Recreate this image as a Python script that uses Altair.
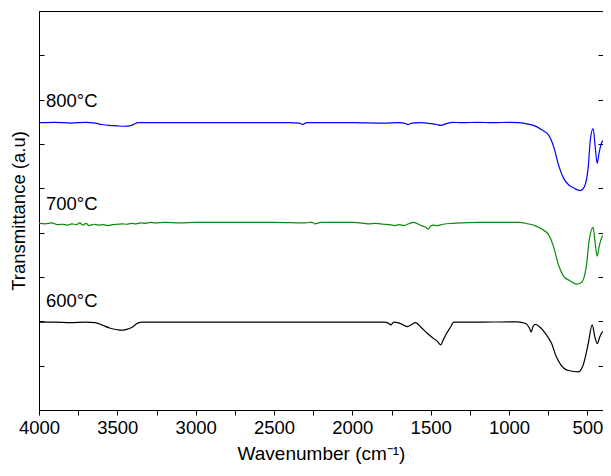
import altair as alt
import pandas as pd

# ---- data ----
wn_800 = [4000, 3900, 3800, 3700, 3640, 3600, 3550, 3500, 3460, 3420, 3390, 3370, 3300, 3000, 2700,
          2400, 2340, 2317, 2290, 2000, 1800, 1700, 1660, 1642, 1620, 1560, 1500, 1460, 1434, 1400,
          1358, 1300, 1200, 1100, 1000, 936, 880, 835, 791, 747, 715, 684, 652, 620, 583, 545, 520,
          494, 481, 463, 450, 437, 425, 406, 400]
t_800 = [64.8, 64.9, 64.7, 64.9, 64.7, 64.4, 64.2, 64.1, 64.0, 64.1, 64.5, 64.8, 64.8, 64.8, 64.8,
         64.8, 64.7, 64.4, 64.8, 64.8, 64.7, 64.8, 64.6, 64.4, 64.7, 64.8, 64.6, 64.4, 64.2, 64.6,
         64.9, 64.8, 64.9, 64.8, 64.9, 64.8, 64.5, 64.1, 63.2, 62.0, 59.4, 55.3, 52.3, 50.8, 50.0,
         49.5, 50.3, 54.9, 60.9, 63.5, 59.4, 55.6, 58.0, 60.5, 60.8]

wn_700 = [4000, 3960, 3920, 3880, 3850, 3820, 3790, 3760, 3740, 3720, 3700, 3680, 3650, 3620, 3590,
          3560, 3530, 3500, 3470, 3440, 3410, 3380, 3350, 3320, 3290, 3260, 3200, 3100, 3000, 2800,
          2500, 2300, 2260, 2240, 2200, 2000, 1950, 1900, 1850, 1800, 1760, 1730, 1700, 1670, 1640,
          1610, 1560, 1530, 1516, 1500, 1484, 1460, 1420, 1358, 1300, 1188, 1000, 936, 880, 835,
          791, 747, 715, 684, 652, 614, 570, 539, 507, 488, 463, 450, 437, 425, 406, 400]
t_700 = [42.1, 42.0, 42.2, 41.8, 41.9, 41.7, 42.0, 41.8, 42.2, 41.7, 42.1, 41.6, 41.9, 41.7, 41.8,
         41.6, 41.8, 41.9, 42.0, 41.9, 42.1, 42.0, 42.2, 42.1, 42.3, 42.2, 42.3, 42.2, 42.3, 42.3,
         42.3, 42.2, 42.4, 42.0, 42.3, 42.3, 42.2, 42.0, 42.1, 41.9, 41.8, 41.6, 41.8, 41.6, 42.0,
         42.3, 41.6, 41.2, 40.8, 41.5, 41.7, 41.6, 41.9, 42.1, 42.2, 42.3, 42.3, 42.3, 42.0, 41.6,
         40.8, 39.5, 36.8, 32.7, 30.2, 29.2, 28.4, 28.7, 32.3, 38.3, 41.2, 37.6, 34.7, 36.8, 39.1, 39.4]

wn_600 = [4000, 3900, 3800, 3700, 3640, 3600, 3550, 3500, 3479, 3440, 3400, 3370, 3340, 3000, 2500,
          2000, 1800, 1770, 1755, 1736, 1700, 1648, 1620, 1598, 1560, 1522, 1484, 1460, 1436, 1420,
          1398, 1375, 1352, 1200, 1000, 948, 893, 870, 858, 845, 831, 800, 768, 728, 698, 669, 620,
          557, 526, 494, 469, 452, 437, 420, 406, 400]
t_600 = [19.8, 19.8, 19.7, 19.8, 19.7, 19.2, 18.5, 18.1, 18.0, 18.2, 18.8, 19.6, 19.8, 19.8, 19.8,
         19.8, 19.8, 19.6, 19.2, 19.8, 19.6, 18.8, 19.3, 19.7, 18.6, 17.3, 16.2, 15.6, 14.7, 15.8,
         17.3, 18.6, 19.8, 19.8, 19.9, 19.9, 19.5, 18.5, 17.6, 19.0, 19.3, 18.6, 17.3, 15.0, 12.0,
         10.2, 8.9, 8.6, 10.2, 15.0, 19.2, 16.5, 15.0, 16.5, 17.5, 17.7]

series_names = ["800°C", "700°C", "600°C"]
series_colors = ["#0000ff", "#0a8a0a", "#000000"]
label_wn = [3956, 3956, 3956]
label_t = [68.3, 45.1, 23.2]
x_ticks = list(range(4000, 399, -250))
y_ticks = list(range(0, 91, 10))

rows = []
for name, wns, ts in zip(series_names, [wn_800, wn_700, wn_600], [t_800, t_700, t_600]):
    for w, t in zip(wns, ts):
        rows.append({"wn": w, "T": t, "series": name})
df = pd.DataFrame(rows)
labels_df = pd.DataFrame({"wn": label_wn, "T": label_t, "series": series_names})

FONT = "Liberation Sans"
xscale = alt.Scale(domain=[4000, 400], nice=False, zero=False)
yscale = alt.Scale(domain=[0, 90], nice=False, zero=False)

x_axis = alt.Axis(values=x_ticks, format="d",
                  labelExpr="datum.value % 500 === 0 ? datum.label : ''",
                  labelFlush=False, labelOverlap=False, grid=False, domain=False,
                  tickSize=5, tickColor="black", labelFontSize=18.5, labelColor="black",
                  labelFont=FONT, labelPadding=3, title="Wavenumber (cm⁻¹)", titleFontSize=19,
                  titleFont=FONT, titleFontWeight="normal", titleColor="black", titlePadding=8)

left_axis = alt.Axis(values=y_ticks, labels=False, grid=False, domain=False, offset=-5,
                     tickSize=5, tickColor="black", title="Transmittance (a.u)",
                     titleFont=FONT, titleFontSize=18.5, titleFontWeight="normal",
                     titleColor="black", titlePadding=10, orient="left")
right_axis = alt.Axis(values=y_ticks, labels=False, grid=False, domain=False, offset=-5,
                      tickSize=5, tickColor="black", title=None, orient="right")

lines = alt.Chart(df).mark_line(strokeWidth=1.2, interpolate="monotone").encode(
    x=alt.X("wn:Q", scale=xscale, axis=x_axis),
    y=alt.Y("T:Q", scale=yscale, axis=left_axis),
    color=alt.Color("series:N", scale=alt.Scale(domain=series_names, range=series_colors), legend=None),
)

right = alt.Chart(df).mark_line(opacity=0).encode(
    x=alt.X("wn:Q", scale=xscale),
    y=alt.Y("T:Q", scale=yscale, axis=right_axis),
    detail="series:N",
)

texts = alt.Chart(labels_df).mark_text(align="left", baseline="alphabetic", fontSize=18.5,
                                       font=FONT, color="black").encode(
    x=alt.X("wn:Q", scale=xscale),
    y=alt.Y("T:Q", scale=yscale, axis=None),
    text="series:N",
)

chart = alt.layer(lines, right, texts).resolve_axis(y="independent").properties(
    width=564, height=399,
    autosize=alt.AutoSizeParams(type="none"),
    padding={"left": 31, "top": 3, "right": 0, "bottom": 55},
).configure(font=FONT).configure_view(stroke="black", strokeWidth=1)

chart.save("out.html", embed_options={"renderer": "svg", "actions": False})
